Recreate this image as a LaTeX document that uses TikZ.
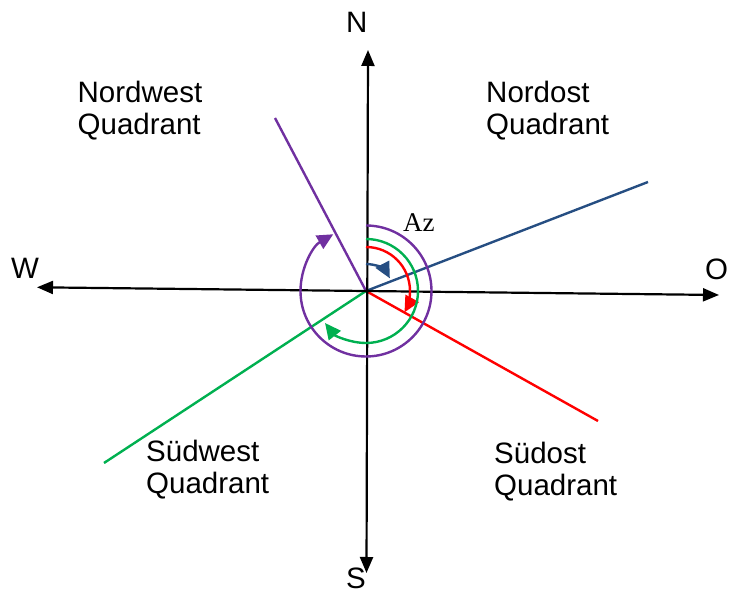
\documentclass[tikz,border=0pt]{standalone}
\usepackage{fontspec}
\setmainfont{Liberation Sans}
\newfontfamily\azfont{Liberation Serif}
\usetikzlibrary{arrows.meta}
\definecolor{azpurple}{RGB}{112,48,160}
\definecolor{azblue}{RGB}{38,78,130}
\definecolor{azgreen}{RGB}{0,176,80}
\definecolor{azred}{RGB}{255,0,0}
\tikzset{
  axisline/.style={line width=2.2pt, black, {Triangle[length=16pt,width=13pt]}-{Triangle[length=16pt,width=13pt]}},
  ray/.style={line width=2.4pt},
  azarc/.style={line width=2.4pt, -{Triangle[length=16pt,width=15pt]}},
  quad/.style={font=\fontsize{29.5}{32.5}\selectfont, align=left, anchor=base west, inner sep=0pt},
  dirlabel/.style={font=\fontsize{29.5}{32.5}\selectfont, anchor=base west, inner sep=0pt}
}
\begin{document}
\begin{tikzpicture}[x=1pt,y=1pt]
\useasboundingbox (0,0) rectangle (734,599);
\coordinate (c) at (366,308);
\coordinate (ntip) at (368,549);
\coordinate (stip) at (366.5,26);
\coordinate (wtip) at (37,311.7);
\coordinate (otip) at (719,304);
\coordinate (pend) at (275,481);
\coordinate (bend) at (648,417);
\coordinate (rend) at (598,178);
\coordinate (gend) at (104,136);
% rays
\draw[ray, azpurple] (c) -- (pend);
\draw[ray, azblue] (c) -- (bend);
\draw[ray, azred] (c) -- (rend);
\draw[ray, azgreen] (c) -- (gend);
% axes
\draw[axisline] (stip) -- (ntip);
\draw[axisline] (wtip) -- (otip);
% arcs
\draw[azarc, azblue] ([shift={(90:27)}]c) arc[start angle=90, end angle=28, radius=27];
\draw[azarc, azred] ([shift={(90:44)}]c) arc[start angle=90, end angle=-29, radius=44];
\draw[azarc, azgreen] ([shift={(90:52)}]c) arc[start angle=90, end angle=-142, radius=52];
\draw[azarc, azpurple] ([shift={(90:65.5)}]c) arc[start angle=90, end angle=-240, radius=65.5];
% labels
\node[dirlabel] (nlab) at (346,566.7) {N};
\node[dirlabel] (slab) at (346,10) {S};
\node[dirlabel] (wlab) at (11,320.7) {W};
\node[dirlabel] (olab) at (705,319) {O};
\node[anchor=base west, inner sep=0pt, font=\azfont\fontsize{27}{30}\selectfont] (az) at (403,367.3) {Az};
\node[quad] (nw) at (77.5,464) {Nordwest\\Quadrant};
\node[quad] (no) at (486,464) {Nordost\\Quadrant};
\node[quad] (sw) at (146,105) {Südwest\\Quadrant};
\node[quad] (so) at (494,103.3) {Südost\\Quadrant};
\end{tikzpicture}
\end{document}
